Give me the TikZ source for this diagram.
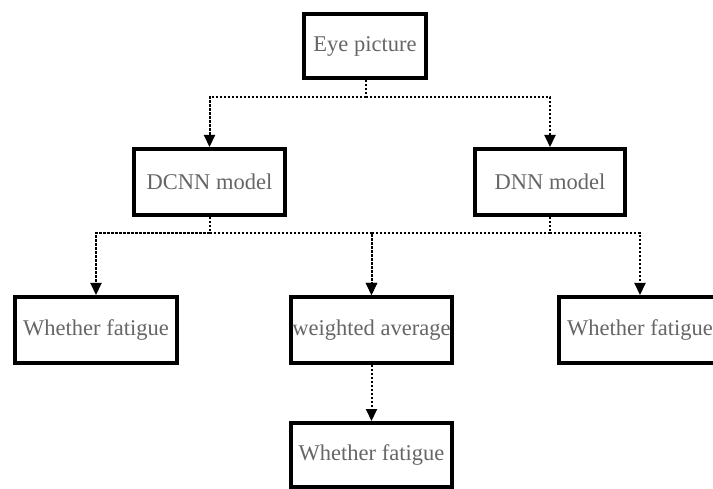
\documentclass[tikz,border=0pt]{standalone}
\usepackage{fontspec}
\setmainfont{Liberation Serif}
\usetikzlibrary{arrows.meta}
\definecolor{labelgray}{HTML}{666666}
\tikzset{
  box/.style={draw=black, line width=4pt, rectangle, fill=white,
    minimum height=66pt, inner sep=0pt,
    font=\fontsize{22.5}{25}\selectfont, text=labelgray},
  conn/.style={line width=2pt, dash pattern=on 2.2pt off 1.8pt,
    -{Triangle[width=11pt,length=12pt]}},
  stub/.style={line width=2pt, dash pattern=on 2.2pt off 1.8pt}
}
\begin{document}
\begin{tikzpicture}[x=1pt, y=-1pt]
  \clip (0,0) rectangle (713,489);
  \fill[white] (0,0) rectangle (713,489);

  % nodes
  \node[box, minimum width=122pt, minimum height=64pt] (eye) at (365,46) {Eye picture};
  \node[box, minimum width=151pt] (dcnn) at (209.5,182) {DCNN model};
  \node[box, minimum width=150pt] (dnn) at (550,182) {DNN model};
  \node[box, minimum width=162pt] (lwf) at (96,330) {Whether fatigue};
  \node[box, minimum width=161pt] (wa) at (371.5,330) {weighted average};
  \node[box, minimum width=162pt] (rwf) at (640,330) {Whether fatigue};
  \node[box, minimum width=161pt, minimum height=64pt] (bwf) at (371.5,455) {Whether fatigue};

  % branch points
  \coordinate (s1) at (366,97);
  \coordinate (s2) at (209.5,233);
  \coordinate (s3) at (550,233);

  % connectors
  \draw[stub] (eye.south -| s1) -- (s1);
  \draw[conn] (s1) -| (dcnn.north);
  \draw[conn] (s1) -| (dnn.north);

  \draw[stub] (dcnn.south) -- (s2);
  \draw[conn] (s2) -| (lwf.north);
  \draw[conn] (s2) -| (wa.north);

  \draw[stub] (dnn.south) -- (s3);
  \draw[conn] (s3) -| (rwf.north);
  \draw[conn] (s3) -| (wa.north);

  \draw[conn] (wa.south) -- (bwf.north);
\end{tikzpicture}
\end{document}
